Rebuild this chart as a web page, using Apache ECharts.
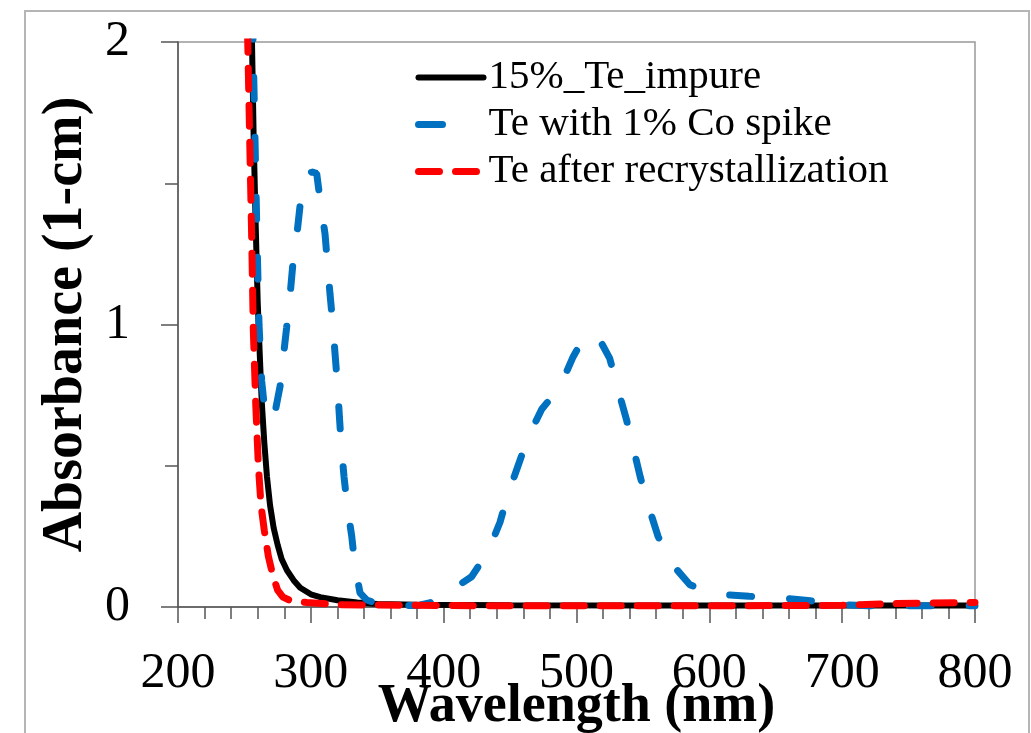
<!DOCTYPE html>
<html>
<head>
<meta charset="utf-8">
<script src="https://cdn.jsdelivr.net/npm/echarts@6/dist/echarts.min.js"></script>
<style>html,body{margin:0;padding:0;background:#fff;}#c{width:1031px;height:733px;}</style>
</head>
<body>
<div id="c"></div>
<script>
// ---- data ----
const seriesNames = ['15%_Te_impure', 'Te with 1% Co spike', 'Te after recrystallization'];

const impureWl  = [254, 255.7, 257, 258.5, 260, 261.5, 263, 265, 267, 269.3, 272, 275, 278, 282, 287, 292, 300, 307, 320, 335, 350, 380, 450, 550, 650, 800];
const impureAbs = [2.3, 2.0, 1.65, 1.35, 1.08, 0.9, 0.73, 0.58, 0.46, 0.36, 0.28, 0.22, 0.17, 0.13, 0.095, 0.068, 0.045, 0.035, 0.024, 0.016, 0.011, 0.008, 0.006, 0.005, 0.005, 0.005];

const coWl  = [255.5, 256.5, 258, 259.5, 261, 263, 265, 267.5, 270.5, 273.5, 276.8, 279.3, 281.8, 284.3, 286.3, 289.3, 291.8, 295.6, 300.6, 304.4, 307, 310.7, 312.5, 314.4, 316.5, 318.2, 320, 321.5, 323, 325, 327.5, 330.8, 333, 337, 342, 350, 360, 380, 390, 402, 421, 433.5, 442.4, 448.5, 456, 463.5, 473.8, 487.6, 497.5, 504, 510, 517, 525, 531, 537.8, 542.6, 548, 554, 561.4, 570.4, 585.5, 608, 630, 653, 676, 698, 720, 800];
const coAbs = [2.3, 2.0, 1.65, 1.3, 1.0, 0.8, 0.71, 0.67, 0.66, 0.7, 0.78, 0.886, 0.99, 1.1, 1.205, 1.31, 1.417, 1.517, 1.54, 1.535, 1.44, 1.32, 1.216, 1.11, 1.004, 0.898, 0.79, 0.674, 0.567, 0.46, 0.355, 0.25, 0.155, 0.05, 0.025, 0.012, 0.005, 0.005, 0.015, 0.048, 0.107, 0.196, 0.3, 0.4, 0.5, 0.6, 0.7, 0.78, 0.886, 0.94, 0.965, 0.95, 0.88, 0.775, 0.66, 0.567, 0.46, 0.36, 0.25, 0.16, 0.078, 0.045, 0.038, 0.033, 0.022, 0.008, 0.004, 0.004];

const recrystWl  = [251.5, 252.5, 254, 255.5, 256.7, 258.5, 260.5, 262.5, 265, 268, 271.5, 275, 279, 285, 297, 320, 400, 500, 600, 700, 740, 800];
const recrystAbs = [2.3, 2.0, 1.65, 1.3, 0.98, 0.72, 0.5, 0.36, 0.27, 0.18, 0.11, 0.06, 0.035, 0.022, 0.016, 0.008, 0.005, 0.004, 0.004, 0.006, 0.012, 0.016];

const xTicks = [200, 300, 400, 500, 600, 700, 800];
const yTicks = [0, 1, 2];

const zip = (xs, ys) => xs.map((x, i) => [x, ys[i]]);

const serif = '"Liberation Serif", "Times New Roman", serif';
const colors = ['#000000', '#0070c0', '#ff0000'];
const dashes = ['solid', [22, 38], [21, 16]];
const legendDashes = ['solid', [24, 80], [21, 16]];
const chart = echarts.init(document.getElementById('c'), null, {renderer: 'canvas'});

chart.setOption({
  animation: false,
  backgroundColor: '#fff',
  graphic: [{
    type: 'rect', silent: true, z: -1,
    shape: {x: 25, y: 11, width: 1004, height: 800},
    style: {fill: 'none', stroke: '#b5b5b5', lineWidth: 2}
  }],
  grid: {left: 178, right: 56, top: 42, bottom: 126, outerBoundsMode: 'none', containLabel: false,
         show: true, borderColor: '#999', borderWidth: 1.5, backgroundColor: 'transparent'},
  legend: {
    orient: 'vertical', left: 410, top: 52,
    itemWidth: 65, itemHeight: 14, itemGap: 6,
    textStyle: {fontFamily: serif, fontSize: 41, color: '#000'},
    itemStyle: {opacity: 0},
    data: seriesNames.map((n, i) => ({
      name: n,
      itemStyle: {opacity: 0},
      lineStyle: {color: colors[i], width: i === 0 ? 6 : 7, type: legendDashes[i], cap: 'round'}
    }))
  },
  xAxis: {
    type: 'value', min: xTicks[0], max: xTicks[xTicks.length - 1], interval: 100,
    name: 'Wavelength (nm)', nameLocation: 'middle', nameGap: 73, nameMoveOverlap: false,
    nameTextStyle: {fontFamily: serif, fontSize: 54, fontWeight: 'bold', color: '#000'},
    axisLine: {show: true, lineStyle: {color: '#555', width: 1.5}},
    axisTick: {show: true, inside: false, length: 16, lineStyle: {color: '#555', width: 1.5}},
    minorTick: {show: true, splitNumber: 5, length: 12, lineStyle: {color: '#555', width: 1.5}},
    axisLabel: {fontFamily: serif, fontSize: 50, color: '#000', margin: 42},
    splitLine: {show: false}
  },
  yAxis: {
    type: 'value', min: yTicks[0], max: yTicks[yTicks.length - 1], interval: 1,
    name: 'Absorbance (1-cm)', nameLocation: 'middle', nameGap: 83, nameMoveOverlap: false,
    nameTextStyle: {fontFamily: serif, fontSize: 56, fontWeight: 'bold', color: '#000'},
    axisLine: {show: true, lineStyle: {color: '#555', width: 1.5}},
    axisTick: {show: true, inside: false, length: 17, lineStyle: {color: '#555', width: 1.5}},
    minorTick: {show: true, splitNumber: 2, length: 13, lineStyle: {color: '#555', width: 1.5}},
    axisLabel: {fontFamily: serif, fontSize: 50, color: '#000', margin: 48},
    splitLine: {show: false}
  },
  series: [
    {
      name: seriesNames[0], type: 'line', symbol: 'none', clip: true, z: 2,
      data: zip(impureWl, impureAbs),
      lineStyle: {color: colors[0], width: 6, type: dashes[0]},
      itemStyle: {color: colors[0]}
    },
    {
      name: seriesNames[1], type: 'line', symbol: 'none', clip: true, z: 3,
      data: zip(coWl, coAbs),
      lineStyle: {color: colors[1], width: 7, type: dashes[1], cap: 'round'},
      itemStyle: {color: colors[1]}
    },
    {
      name: seriesNames[2], type: 'line', symbol: 'none', clip: true, z: 4,
      data: zip(recrystWl, recrystAbs),
      lineStyle: {color: colors[2], width: 7, type: dashes[2], cap: 'round'},
      itemStyle: {color: colors[2]}
    }
  ]
});
</script>
</body>
</html>
